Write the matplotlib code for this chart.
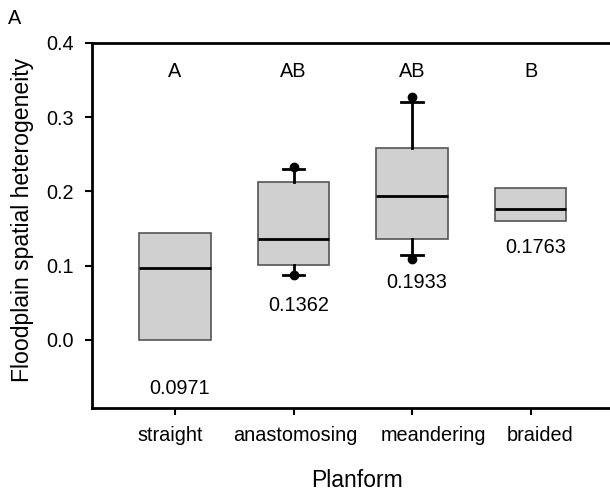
import matplotlib
matplotlib.use('Agg')
import matplotlib.pyplot as plt
import matplotlib.transforms as mtransforms

plt.rcParams['font.family'] = ['Liberation Sans', 'DejaVu Sans']

planforms = ['straight', 'anastomosing', 'meandering', 'braided']
q1 = [0.0, 0.101, 0.136, 0.1606]
med = [0.0971, 0.1362, 0.1933, 0.1763]
q3 = [0.1436, 0.213, 0.258, 0.2042]
whislo = [0.0, 0.0875, 0.1144, 0.1606]
whishi = [0.1436, 0.230, 0.3208, 0.2042]
fliers = [[], [0.0879, 0.2328], [0.1086, 0.3266], []]
letters = ['A', 'AB', 'AB', 'B']
median_labels = ['0.0971', '0.1362', '0.1933', '0.1763']

# where the median numbers sit (data y)
label_y = [-0.065, 0.047, 0.078, 0.125]
# the category labels are not quite centred on their ticks (pixels)
tick_dx = [-5, 2, 21, 9]

fig = plt.figure(figsize=(6.10, 4.93), dpi=100)
ax = fig.add_axes([0.1508, 0.1724, 0.8492, 0.7404])

pos = [1, 2, 3, 4]
for i in range(4):
    st = dict(med=med[i], q1=q1[i], q3=q3[i], whislo=whislo[i], whishi=whishi[i],
              fliers=fliers[i])
    has_whisk = whislo[i] < q1[i] or whishi[i] > q3[i]
    ax.bxp([st], positions=[pos[i]], widths=0.605, patch_artist=True,
           showcaps=has_whisk, capwidths=0.185,
           boxprops=dict(facecolor='#d0d0d0', edgecolor='#555555', linewidth=1.2),
           medianprops=dict(color='black', linewidth=2),
           whiskerprops=dict(color='black', linewidth=2, visible=has_whisk),
           capprops=dict(color='black', linewidth=2),
           flierprops=dict(marker='o', markerfacecolor='black', markeredgecolor='black',
                           markersize=6))

for i in range(4):
    ax.text(pos[i], 0.361, letters[i], ha='center', va='center', fontsize=14.3)
    ax.text(pos[i] + 0.04, label_y[i], median_labels[i], ha='center', va='center', fontsize=14.3)

ax.set_xlim(0.30, 4.67)
ax.set_ylim(-0.0916, 0.4)
ax.set_yticks([0.0, 0.1, 0.2, 0.3, 0.4])
ax.set_yticklabels(['0.0', '0.1', '0.2', '0.3', '0.4'])
ax.set_xticks(pos)
ax.set_xticklabels(planforms)
ax.tick_params(axis='both', direction='out', length=5, width=1.5, labelsize=14.3)
ax.tick_params(axis='x', pad=8)
ax.tick_params(axis='y', pad=8)

for lab, dx in zip(ax.get_xticklabels(), tick_dx):
    off = mtransforms.ScaledTranslation(dx / 100, 0, fig.dpi_scale_trans)
    lab.set_transform(lab.get_transform() + off)

for s in ['left', 'bottom', 'top']:
    ax.spines[s].set_linewidth(2)
ax.spines['right'].set_visible(False)

ax.set_ylabel('Floodplain spatial heterogeneity', fontsize=16.6)
ax.yaxis.set_label_coords(-0.112, 0.516)
ax.set_xlabel('Planform', fontsize=16.5)
ax.xaxis.set_label_coords(0.5116, -0.168)
fig.text(0.013, 0.963, 'A', fontsize=14.3, ha='left', va='center')

fig.savefig('out.png', dpi=100)
